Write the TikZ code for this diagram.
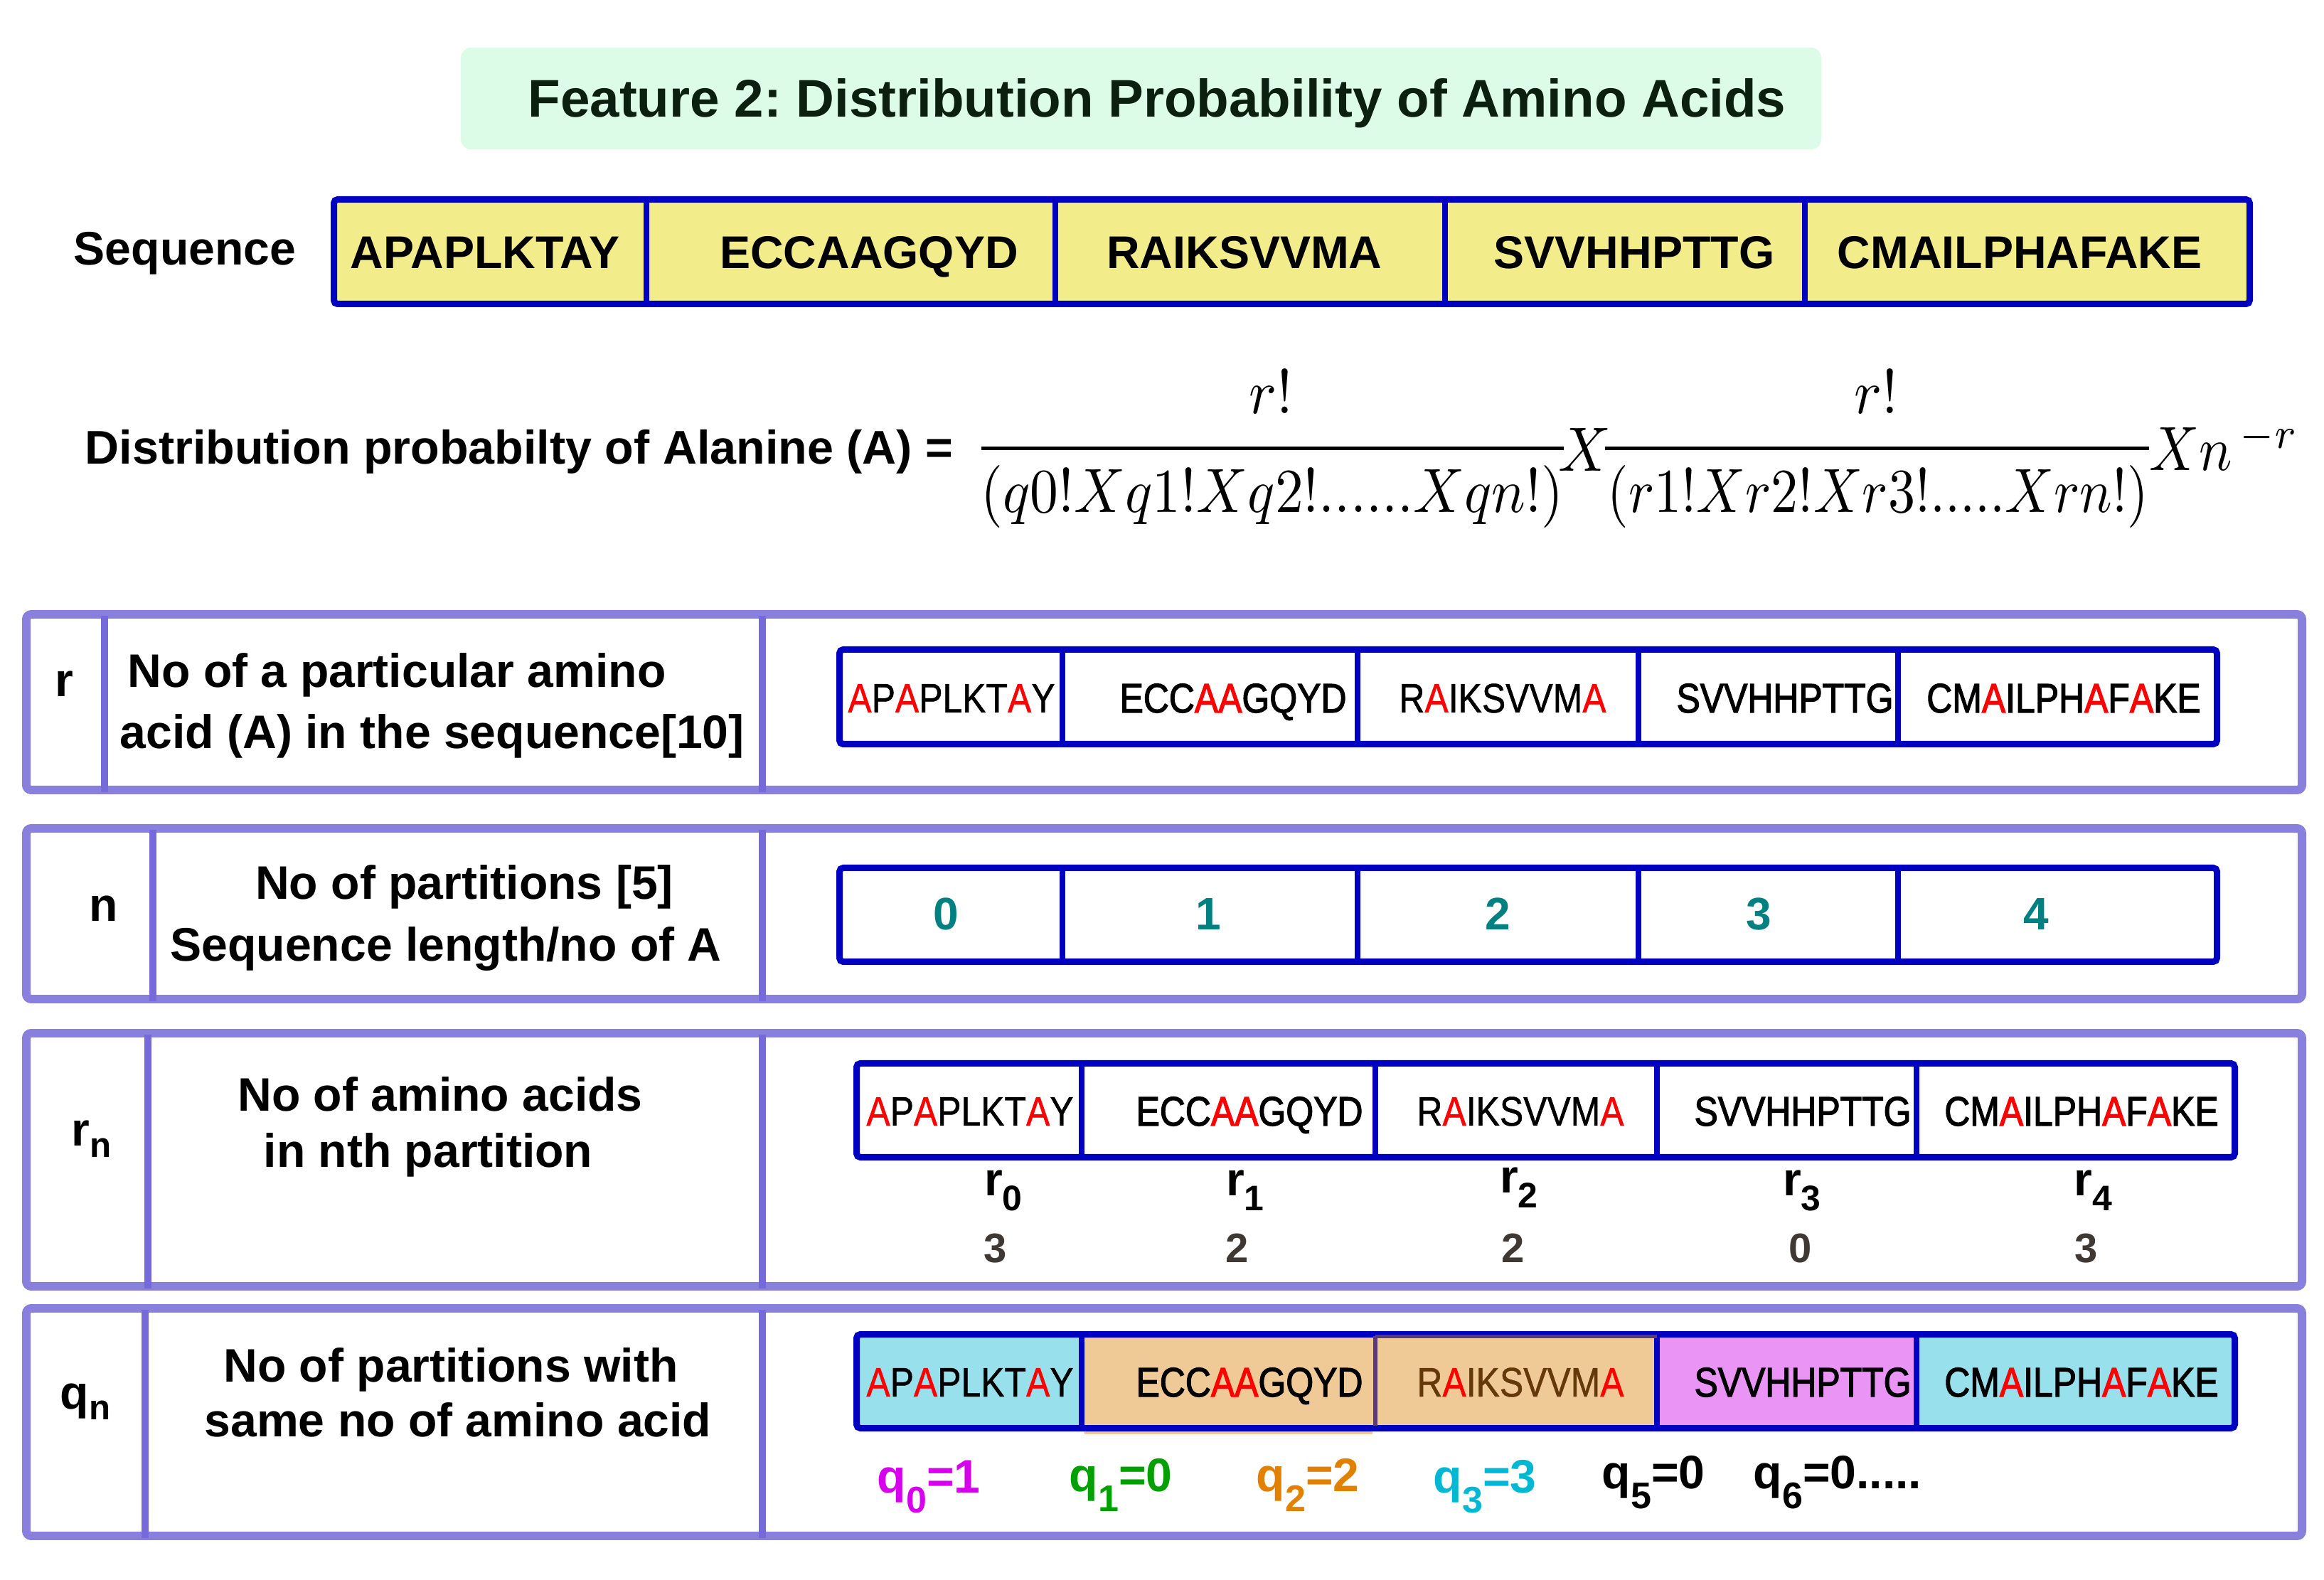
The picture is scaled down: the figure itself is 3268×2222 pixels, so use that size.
\documentclass[tikz,border=0pt]{standalone}
\usepackage[no-math]{fontspec}
\setmainfont{Liberation Sans}
\newfontfamily\seqfont{Liberation Sans}[FakeStretch=0.86,FakeBold=0.8]
\newfontfamily\seqboldfont{Liberation Sans}[FakeStretch=0.86,FakeBold=2]
\usepackage{graphicx}
\frenchspacing
\definecolor{mint}{RGB}{221,252,232}
\definecolor{titletxt}{RGB}{12,32,16}
\definecolor{seqblue}{RGB}{0,0,192}
\definecolor{khakic}{RGB}{242,236,138}
\definecolor{panelc}{RGB}{137,128,222}
\definecolor{divc}{RGB}{118,106,218}
\definecolor{tealc}{RGB}{0,128,128}
\definecolor{valc}{RGB}{64,56,50}
\definecolor{cyanc}{RGB}{152,224,236}
\definecolor{tanc}{RGB}{240,202,150}
\definecolor{violc}{RGB}{234,148,246}
\definecolor{brownc}{RGB}{100,56,8}
\definecolor{darkpur}{RGB}{90,58,120}
\definecolor{qmag}{RGB}{214,0,236}
\definecolor{qgreen}{RGB}{0,160,0}
\definecolor{qorange}{RGB}{226,128,0}
\definecolor{qcyan}{RGB}{0,184,212}
\newcommand\redA{\textcolor{red}{A}}
\newcommand\lowsub[1]{\raisebox{-4.3pt}{\fontsize{14}{16}\selectfont #1}}
\newcommand\rsubs[1]{\raisebox{-5.7pt}{\fontsize{14.2}{16}\selectfont #1}}
\newcommand\qsubs[1]{\raisebox{-8pt}{\fontsize{14.8}{16}\selectfont #1}}
\newcommand\bigmath[2]{\scalebox{#1}[2.5]{$#2$}}
\begin{document}
\begin{tikzpicture}[x=0.01cm,y=-0.01cm,
  lbl/.style={inner sep=0pt, anchor=base, font=\fontsize{18.8}{22}\selectfont\bfseries},
  seqbig/.style={inner sep=0pt, anchor=base, font=\fontsize{18.35}{22}\selectfont\bfseries},
  seqsm/.style={inner sep=0pt, anchor=base, font=\seqfont\fontsize{16.5}{20}\selectfont},
  seqsmb/.style={inner sep=0pt, anchor=base, font=\seqboldfont\fontsize{16.5}{20}\selectfont},
  numlbl/.style={inner sep=0pt, anchor=base, font=\fontsize{18.2}{22}\selectfont\bfseries, text=tealc},
  rlbl/.style={inner sep=0pt, anchor=base, font=\fontsize{18.8}{22}\selectfont\bfseries},
  vallbl/.style={inner sep=0pt, anchor=base, font=\fontsize{16.5}{20}\selectfont\bfseries, text=valc},
  qlbl/.style={inner sep=0pt, anchor=base west, font=\fontsize{18.8}{22}\selectfont\bfseries},
  mathf/.style={inner sep=0pt, anchor=base, font=\normalsize},
  seqbox/.style={draw=seqblue, line width=2.56pt, rounded corners=1.5pt},
  seqdiv/.style={draw=seqblue, line width=2.3pt},
  panel/.style={draw=panelc, line width=3.41pt, rounded corners=2pt},
  pdiv/.style={draw=divc, line width=2.85pt},
  fracline/.style={draw=black, line width=1.42pt}]
\useasboundingbox (0,0) rectangle (3268,2222);
\fill[white] (0,0) rectangle (3268,2222);

% title
\fill[mint, rounded corners=4pt] (648,67) rectangle (2561,210);
\node[inner sep=0pt, anchor=base, font=\fontsize{21.2}{25}\selectfont\bfseries, text=titletxt] (title) at (1627,165) {Feature 2: Distribution Probability of Amino Acids};

% sequence bar
\node[lbl] (seqlabel) at (260,373) {Sequence};
\fill[khakic] (469.5,280.5) rectangle (3163.5,427.5);
\foreach \x in {909,1484,2032,2538} \draw[seqdiv] (\x,280.5) -- (\x,427.5);
\draw[seqbox] (469.5,280.5) rectangle (3163.5,427.5);
\node[seqbig] (s1) at (682,378) {APAPLKTAY};
\node[seqbig] (s2) at (1222,378) {ECCAAGQYD};
\node[seqbig] (s3) at (1750,378) {RAIKSVVMA};
\node[seqbig] (s4) at (2298,378) {SVVHHPTTG};
\node[seqbig] (s5) at (2840,378) {CMAILPHAFAKE};

% formula
\node[inner sep=0pt, anchor=base west, font=\fontsize{18.9}{22}\selectfont\bfseries] (flabel) at (119,653) {Distribution probabilty of Alanine (A) =};
\node[mathf] (num1) at (1787,582) {\bigmath{2.32}{r!}};
\draw[fracline] (1380,631) -- (2199,631);
\node[mathf] (den1) at (1789,721) {\bigmath{2.26}{(q0!Xq1!Xq2!......Xqn!)}};
\node[mathf] (xmid) at (2228,663) {\bigmath{2.32}{X}};
\node[mathf] (num2) at (2638,582) {\bigmath{2.32}{r!}};
\draw[fracline] (2257,631) -- (3022,631);
\node[mathf] (den2) at (2641,721) {\bigmath{2.16}{(r1!Xr2!Xr3!.....Xrn!)}};
\node[mathf, anchor=base west] (xn) at (3022,662) {\bigmath{2.2}{Xn^{\,-r}}};

% panel 1 : r
\draw[panel] (37,864) rectangle (3237,1111);
\draw[pdiv] (147,866) -- (147,1114);
\draw[pdiv] (1072,866) -- (1072,1114);
\node[lbl, anchor=base west] (rlab) at (77,980) {r};
\node[lbl, anchor=base west] (r1a) at (179,967) {No of a particular amino};
\node[lbl, anchor=base west] (r1b) at (168,1053) {acid (A) in the sequence[10]};
\foreach \x in {1494,1909,2304,2669} \draw[seqdiv] (\x,913.5) -- (\x,1046.5);
\draw[seqbox] (1180.5,913.5) rectangle (3117.5,1046.5);
\node[seqsm] (a1) at (1338,1002) {\redA P\redA PLKT\redA Y};
\node[seqsmb] (a2) at (1734,1002) {ECC\redA\redA GQYD};
\node[seqsm] (a3) at (2113,1002) {R\redA IKSVVM\redA};
\node[seqsmb] (a4) at (2510,1002) {SVVHHPTTG};
\node[seqsmb] (a5) at (2902,1002) {CM\redA ILPH\redA F\redA KE};

% panel 2 : n
\draw[panel] (37,1165) rectangle (3237,1405);
\draw[pdiv] (215,1167) -- (215,1408);
\draw[pdiv] (1072,1167) -- (1072,1408);
\node[lbl, anchor=base west] (nlab) at (125,1296) {n};
\node[lbl] (n1a) at (653,1265) {No of partitions [5]};
\node[lbl] (n1b) at (627,1352) {Sequence length/no of A};
\foreach \x in {1494,1909,2304,2669} \draw[seqdiv] (\x,1220.5) -- (\x,1352.5);
\draw[seqbox] (1180.5,1220.5) rectangle (3117.5,1352.5);
\node[numlbl] (p0) at (1330,1308) {0};
\node[numlbl] (p1) at (1699,1308) {1};
\node[numlbl] (p2) at (2106,1308) {2};
\node[numlbl] (p3) at (2473,1308) {3};
\node[numlbl] (p4) at (2863,1308) {4};

% panel 3 : r_n
\draw[panel] (37,1453) rectangle (3237,1809);
\draw[pdiv] (208,1455) -- (208,1812);
\draw[pdiv] (1072,1455) -- (1072,1812);
\node[lbl, anchor=base west] (rnlab) at (100,1612) {r\lowsub{n}};
\node[lbl] (rn1a) at (619,1563) {No of amino acids};
\node[lbl] (rn1b) at (602,1642) {in nth partition};
\foreach \x in {1521,1934,2330,2695} \draw[seqdiv] (\x,1495.5) -- (\x,1627.5);
\draw[seqbox] (1204.5,1495.5) rectangle (3142.5,1627.5);
\node[seqsm] (b1) at (1364,1583) {\redA P\redA PLKT\redA Y};
\node[seqsmb] (b2) at (1757,1583) {ECC\redA\redA GQYD};
\node[seqsm] (b3) at (2138,1583) {R\redA IKSVVM\redA};
\node[seqsmb] (b4) at (2535,1583) {SVVHHPTTG};
\node[seqsmb] (b5) at (2927,1583) {CM\redA ILPH\redA F\redA KE};
\node[rlbl] (r0) at (1411,1682) {r\rsubs{0}};
\node[rlbl] (r1) at (1751,1682) {r\rsubs{1}};
\node[rlbl] (r2) at (2136,1678) {r\rsubs{2}};
\node[rlbl] (r3) at (2534,1682) {r\rsubs{3}};
\node[rlbl] (r4) at (2943,1682) {r\rsubs{4}};
\node[vallbl] (v0) at (1400,1775) {3};
\node[vallbl] (v1) at (1740,1775) {2};
\node[vallbl] (v2) at (2128,1775) {2};
\node[vallbl] (v3) at (2532,1775) {0};
\node[vallbl] (v4) at (2934,1775) {3};

% panel 4 : q_n
\draw[panel] (37,1840) rectangle (3237,2160);
\draw[pdiv] (204,1842) -- (204,2163);
\draw[pdiv] (1072,1842) -- (1072,2163);
\node[lbl, anchor=base west] (qnlab) at (84,1981) {q\lowsub{n}};
\node[lbl] (qn1a) at (634,1943) {No of partitions with};
\node[lbl] (qn1b) at (644,2020) {same no of amino acid};
\fill[tanc] (1525,2006) rectangle (1930,2017);
\fill[cyanc] (1204.5,1876.5) rectangle (1521,2008.5);
\fill[tanc] (1521,1876.5) rectangle (2330,2008.5);
\fill[violc] (2330,1876.5) rectangle (2695,2008.5);
\fill[cyanc] (2695,1876.5) rectangle (3142.5,2008.5);
\foreach \x in {1521,2330,2695} \draw[seqdiv] (\x,1876.5) -- (\x,2008.5);
\draw[seqbox] (1204.5,1876.5) rectangle (3142.5,2008.5);
\draw[darkpur, line width=1.6pt] (1934,1879.5) -- (2330,1879.5);
\draw[darkpur, line width=1.8pt] (1934,1879) -- (1934,2005);
\node[seqsm] (c1) at (1364,1964) {\redA P\redA PLKT\redA Y};
\node[seqsmb] (c2) at (1757,1964) {ECC\redA\redA GQYD};
\node[seqsm, text=brownc] (c3) at (2138,1964) {R\redA IKSVVM\redA};
\node[seqsmb] (c4) at (2535,1964) {SVVHHPTTG};
\node[seqsmb] (c5) at (2927,1964) {CM\redA ILPH\redA F\redA KE};
\node[qlbl, text=qmag] (q0) at (1233,2099) {q\qsubs{0}=1};
\node[qlbl, text=qgreen] (q1) at (1503,2097) {q\qsubs{1}=0};
\node[qlbl, text=qorange] (q2) at (1766,2097) {q\qsubs{2}=2};
\node[qlbl, text=qcyan] (q3) at (2015,2099) {q\qsubs{3}=3};
\node[qlbl] (q5) at (2252,2093) {q\qsubs{5}=0};
\node[qlbl] (q6) at (2465,2093) {q\qsubs{6}=0.....};
\end{tikzpicture}
\end{document}
